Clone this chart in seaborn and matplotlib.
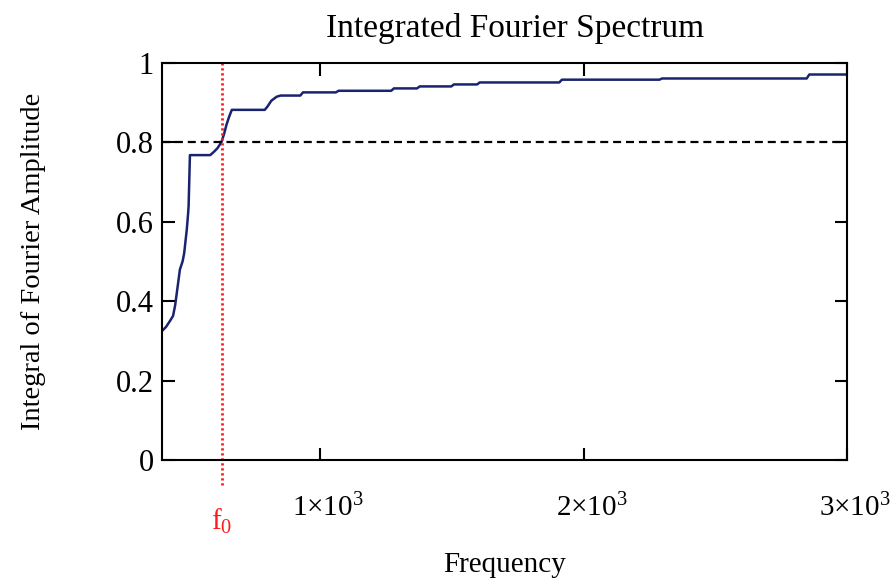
import matplotlib
matplotlib.use("Agg")
import matplotlib.pyplot as plt
import matplotlib.transforms as mtransforms
import seaborn as sns
import pandas as pd

# Cumulative (integrated) Fourier amplitude as polyline vertices
freq = [400, 415, 430, 442, 450, 456, 462, 468, 478, 484, 489, 494, 499, 501, 506,
        583, 595, 610, 625, 635, 645, 655, 665,
        790, 800, 815, 835, 850, 925, 935, 1060, 1070, 1270, 1280, 1368, 1378,
        1498, 1508, 1596, 1606, 1908, 1918, 2288, 2298, 2847, 2857, 3000]
amp = [0.325, 0.335, 0.35, 0.363, 0.39, 0.42, 0.45, 0.48, 0.50, 0.52, 0.55, 0.58, 0.62, 0.64, 0.768,
       0.768, 0.775, 0.785, 0.80, 0.82, 0.845, 0.865, 0.882,
       0.882, 0.89, 0.905, 0.915, 0.918, 0.918, 0.926, 0.926, 0.93, 0.93, 0.936, 0.936, 0.941,
       0.941, 0.946, 0.946, 0.951, 0.951, 0.958, 0.958, 0.961, 0.961, 0.971, 0.971]

threshold = 0.8
f0 = 628

x_ticks = [1000, 2000, 3000]
x_tick_labels = [r"1$\times$10$^3$", r"2$\times$10$^3$", r"3$\times$10$^3$"]
y_ticks = [0, 0.2, 0.4, 0.6, 0.8, 1]
y_tick_labels = ["0", "0.2", "0.4", "0.6", "0.8", "1"]

sns.set_theme(style="ticks")
plt.rcParams["font.family"] = ["Liberation Serif", "DejaVu Serif"]
plt.rcParams["mathtext.fontset"] = "custom"
plt.rcParams["mathtext.rm"] = "Liberation Serif"
plt.rcParams["mathtext.it"] = "Liberation Serif"
plt.rcParams["text.color"] = "black"
plt.rcParams["axes.labelcolor"] = "black"

df = pd.DataFrame({"Frequency": freq, "Integral": amp})

fig = plt.figure(figsize=(8.93, 5.85), dpi=100)
ax = fig.add_axes([162 / 893, 1 - 460 / 585, (847 - 162) / 893, (460 - 63) / 585])

sns.lineplot(data=df, x="Frequency", y="Integral", ax=ax, estimator=None, sort=False,
             color="#1a2370", linewidth=1.8)

ax.axhline(threshold, color="black", linestyle=(0, (3.6, 2.2)), linewidth=1.6)
ax.plot([f0, f0], [-0.062, 1.005], color="#ff1a1a", linestyle=(0, (0.8, 1.0)),
        linewidth=2.0, clip_on=False)

ax.set_xlim(400, 3000)
ax.set_ylim(0, 1)
ax.set_xticks(x_ticks)
ax.set_xticklabels(x_tick_labels)
ax.set_yticks(y_ticks)
ax.set_yticklabels(y_tick_labels)

for side in ["left", "right", "top", "bottom"]:
    ax.spines[side].set_visible(True)
    ax.spines[side].set_linewidth(1.5)
    ax.spines[side].set_color("black")

ax.tick_params(axis="both", which="major", direction="in", length=9, width=1.5,
               labelsize=22, colors="black", top=True, right=True)
ax.tick_params(axis="x", pad=24, labelsize=21)
ax.tick_params(axis="y", pad=6)

# nudge the x tick labels slightly to the right of their ticks
shift = mtransforms.ScaledTranslation(8 / 100, 0, fig.dpi_scale_trans)
for lbl in ax.get_xticklabels():
    lbl.set_transform(lbl.get_transform() + shift)

ax.set_xlabel("Frequency", fontsize=21, labelpad=22)
ax.set_ylabel("Integral of Fourier Amplitude", fontsize=20.5, labelpad=50)
ax.set_title("Integrated Fourier Spectrum", fontsize=24, pad=19, x=0.516)

ax.text(f0, -0.155, r"f$_0$", color="#ff1a1a", fontsize=21, ha="center", va="center",
        transform=ax.transData, clip_on=False)

fig.savefig("out.png", dpi=100, facecolor="white")
